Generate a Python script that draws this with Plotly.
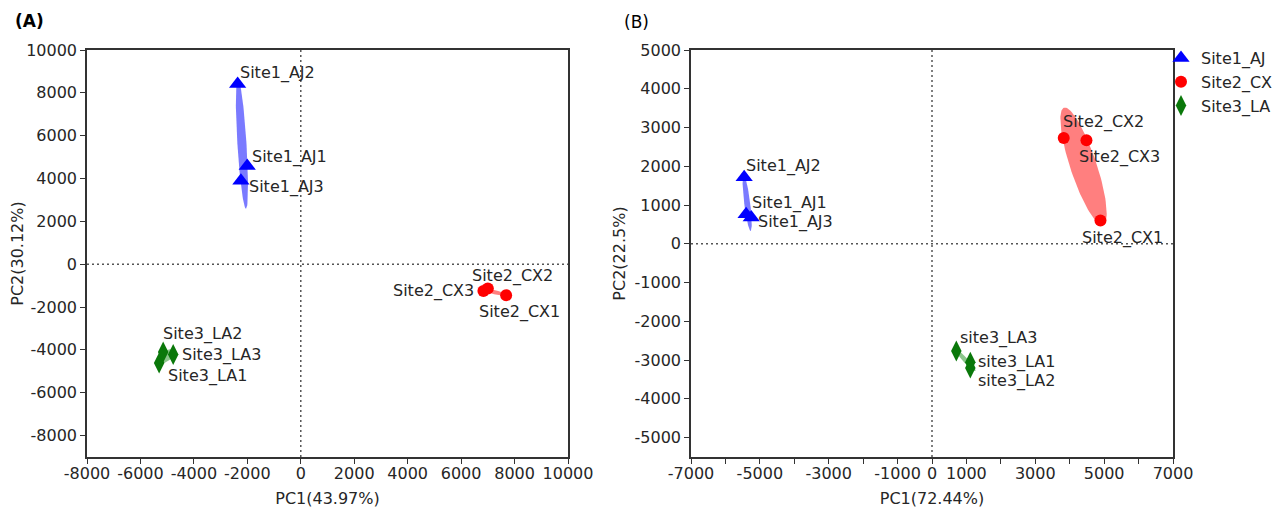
import numpy as np
import plotly.graph_objects as go

# ---------------- data ----------------
groups = ["Site1_AJ", "Site2_CX", "Site3_LA"]

# Panel A (PC1 43.97%, PC2 30.12%)
a_aj_names = ["Site1_AJ1", "Site1_AJ2", "Site1_AJ3"]
a_aj_x = [-2004, -2363, -2240]
a_aj_y = [4579, 8411, 3893]
a_cx_names = ["Site2_CX1", "Site2_CX2", "Site2_CX3"]
a_cx_x = [7685, 7000, 6835]
a_cx_y = [-1449, -1136, -1248]
a_la_names = ["Site3_LA1", "Site3_LA2", "Site3_LA3"]
a_la_x = [-5300, -5150, -4775]
a_la_y = [-4612, -4098, -4220]

# Panel B (PC1 72.44%, PC2 22.5%)
b_aj_names = ["Site1_AJ1", "Site1_AJ2", "Site1_AJ3"]
b_aj_x = [-5400, -5456, -5250]
b_aj_y = [760, 1719, 680]
b_cx_names = ["Site2_CX1", "Site2_CX2", "Site2_CX3"]
b_cx_x = [4893, 3826, 4486]
b_cx_y = [599, 2727, 2674]
b_la_names = ["site3_LA1", "site3_LA2", "site3_LA3"]
b_la_x = [1113, 1113, 706]
b_la_y = [-3055, -3203, -2768]

a_xtick_vals = [-8000, -6000, -4000, -2000, 0, 2000, 4000, 6000, 8000, 10000]
a_xtick_text = ["-8000", "-6000", "-4000", "-2000", "0", "2000", "4000", "6000", "8000", "10000"]
a_ytick_vals = [-8000, -6000, -4000, -2000, 0, 2000, 4000, 6000, 8000, 10000]
a_ytick_text = ["-8000", "-6000", "-4000", "-2000", "0", "2000", "4000", "6000", "8000", "10000"]
b_xtick_vals = [-7000, -6000, -5000, -4000, -3000, -2000, -1000, 0, 1000, 2000, 3000, 4000, 5000, 6000, 7000]
b_xtick_text = ["-7000", "", "-5000", "", "-3000", "", "-1000", "0", "1000", "", "3000", "", "5000", "", "7000"]
b_ytick_vals = [-5000, -4000, -3000, -2000, -1000, 0, 1000, 2000, 3000, 4000, 5000]
b_ytick_text = ["-5000", "-4000", "-3000", "-2000", "-1000", "0", "1000", "2000", "3000", "4000", "5000"]

axis_titles = {"ax": "PC1(43.97%)", "ay": "PC2(30.12%)", "bx": "PC1(72.44%)", "by": "PC2(22.5%)"}

# ---------------- styles ----------------
FONT = "DejaVu Sans"
TXT = "#262626"
W, H = 1280, 502          # page body has an 8px margin
OFF = 8
colors = {"Site1_AJ": "#0000ff", "Site2_CX": "#ff0000", "Site3_LA": "#0a780a"}
fills = {"Site1_AJ": "rgba(0,0,255,0.52)", "Site2_CX": "rgba(255,0,0,0.5)", "Site3_LA": "rgba(0,128,0,0.45)"}
symbols = {"Site1_AJ": "triangle-up", "Site2_CX": "circle", "Site3_LA": "diamond-tall"}
msize = {"Site1_AJ": 15, "Site2_CX": 12, "Site3_LA": 15}

# label placement per point: (xanchor, xshift, yshift) in pixels
a_offsets = {
    "Site1_AJ": [("left", 3, 9), ("left", 0, 11), ("left", 6, -6)],
    "Site2_CX": [("left", -29, -17), ("left", -18, 13), ("right", -7, 0)],
    "Site3_LA": [("left", 7, -13), ("left", -2, 18), ("left", 7, 0)],
}
b_offsets = {
    "Site1_AJ": [("left", 4, 11), ("left", 0, 11), ("left", 5, -5)],
    "Site2_CX": [("left", -20, -17), ("left", -3, 16), ("left", -9, -17)],
    "Site3_LA": [("left", 6, 0), ("left", 6, -13), ("left", 2, 13)],
}


def conf_ellipse(xs, ys, k=1.25, n=120):
    pts = np.vstack([xs, ys]).astype(float)
    c = pts.mean(axis=1)
    cov = np.cov(pts)
    vals, vecs = np.linalg.eigh(cov)
    vals = np.clip(vals, 0, None)
    t = np.linspace(0, 2 * np.pi, n)
    circ = np.vstack([np.cos(t), np.sin(t)])
    e = vecs @ (np.sqrt(vals)[:, None] * circ) * k
    return c[0] + e[0], c[1] + e[1]


def px(x):
    return (x - OFF) / W


def py(y):
    return 1 - (y - OFF) / H


fig = go.Figure()

panels = [
    ("x", "y", {"Site1_AJ": (a_aj_names, a_aj_x, a_aj_y),
                "Site2_CX": (a_cx_names, a_cx_x, a_cx_y),
                "Site3_LA": (a_la_names, a_la_x, a_la_y)}, a_offsets, False),
    ("x2", "y2", {"Site1_AJ": (b_aj_names, b_aj_x, b_aj_y),
                  "Site2_CX": (b_cx_names, b_cx_x, b_cx_y),
                  "Site3_LA": (b_la_names, b_la_x, b_la_y)}, b_offsets, True),
]

annotations = []
for xa, ya, data, offs, show in panels:
    for g in groups:
        names, xs, ys = data[g]
        ex, ey = conf_ellipse(xs, ys)
        fig.add_trace(go.Scatter(x=ex, y=ey, mode="lines", fill="toself",
                                 fillcolor=fills[g], line=dict(width=0, color=fills[g]),
                                 hoverinfo="skip", showlegend=False, xaxis=xa, yaxis=ya))
    for g in groups:
        names, xs, ys = data[g]
        fig.add_trace(go.Scatter(x=xs, y=ys, mode="markers", name=g,
                                 marker=dict(symbol=symbols[g], size=msize[g], color=colors[g],
                                             line=dict(width=0)),
                                 showlegend=show, legendgroup=g, xaxis=xa, yaxis=ya))
        for nm, xv, yv, (anc, xs_, ys_) in zip(names, xs, ys, offs[g]):
            annotations.append(dict(x=xv, y=yv, xref=xa, yref=ya, text=nm, showarrow=False,
                                    xanchor=anc, yanchor="middle", xshift=xs_, yshift=ys_,
                                    font=dict(family=FONT, size=16, color=TXT)))

# panel tags
annotations.append(dict(x=px(13), y=py(21), xref="paper", yref="paper", text="<b>(A)</b>",
                        showarrow=False, xanchor="left", yanchor="middle",
                        font=dict(family=FONT, size=17, color="#000")))
annotations.append(dict(x=px(622), y=py(22), xref="paper", yref="paper", text="(B)",
                        showarrow=False, xanchor="left", yanchor="middle",
                        font=dict(family=FONT, size=17, color="#000")))

# dotted zero lines
shapes = []
for xa, ya in [("x", "y"), ("x2", "y2")]:
    shapes.append(dict(type="line", xref=xa, yref=ya + " domain", x0=0, x1=0, y0=0, y1=1,
                       line=dict(color="#555", width=1.5, dash="2px,3px"), layer="below"))
    shapes.append(dict(type="line", xref=xa + " domain", yref=ya, x0=0, x1=1, y0=0, y1=0,
                       line=dict(color="#555", width=1.5, dash="2px,3px"), layer="below"))

ydom = [py(457), py(50)]
common = dict(showline=True, linecolor="#333", linewidth=1.5, mirror=True, ticks="outside",
              ticklen=5, tickwidth=1.2, tickcolor="#333", showgrid=False, zeroline=False,
              automargin=False, tickfont=dict(family=FONT, size=16, color=TXT),
              tickmode="array")
tfont = dict(family=FONT, size=16, color=TXT)

fig.update_layout(
    width=W, height=H, margin=dict(l=0, r=0, t=0, b=0),
    paper_bgcolor="white", plot_bgcolor="white", template="none",
    xaxis=dict(domain=[px(87), px(568)], range=[-8000, 10000], anchor="y",
               tickvals=a_xtick_vals, ticktext=a_xtick_text, ticklabelstandoff=-4,
               title=dict(text=axis_titles["ax"], font=tfont, standoff=11), **common),
    yaxis=dict(domain=ydom, range=[-9000, 10000], anchor="x",
               tickvals=a_ytick_vals, ticktext=a_ytick_text,
               title=dict(text=axis_titles["ay"], font=tfont, standoff=0), **common),
    xaxis2=dict(domain=[px(691), px(1173)], range=[-7000, 7000], anchor="y2",
                tickvals=b_xtick_vals, ticktext=b_xtick_text, ticklabelstandoff=-4,
                title=dict(text=axis_titles["bx"], font=tfont, standoff=11), **common),
    yaxis2=dict(domain=ydom, range=[-5500, 5000], anchor="x2",
                tickvals=b_ytick_vals, ticktext=b_ytick_text,
                title=dict(text=axis_titles["by"], font=tfont, standoff=5), **common),
    legend=dict(x=px(1161), y=py(41), xanchor="left", yanchor="top",
                font=dict(family=FONT, size=16, color=TXT), bgcolor="rgba(0,0,0,0)",
                tracegroupgap=0, itemwidth=30),
    annotations=annotations, shapes=shapes, showlegend=True,
)

fig.write_html("out.html")
